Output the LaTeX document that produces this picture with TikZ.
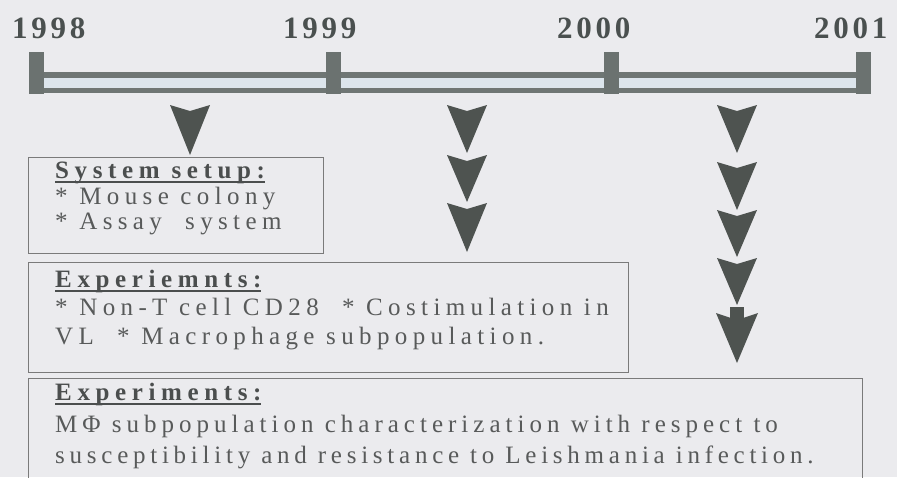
\documentclass[tikz,border=0pt]{standalone}
\usepackage{fontspec}
\setmainfont{Liberation Serif}
\newfontfamily\bodyfont[LetterSpace=21.5]{Liberation Serif}
\newfontfamily\bodyfontb[LetterSpace=20]{Liberation Serif}
\newfontfamily\bodyfontc[LetterSpace=19]{Liberation Serif}
\newfontfamily\headfont[LetterSpace=22.5]{Liberation Serif}
\newfontfamily\yearfont[LetterSpace=12]{Liberation Serif}
\definecolor{bg}{HTML}{EBEBEE}
\definecolor{railgray}{HTML}{6F7674}
\definecolor{raillight}{HTML}{DCE5EC}
\definecolor{tickgray}{HTML}{6B7270}
\definecolor{arrgray}{HTML}{4E5350}
\definecolor{boxline}{HTML}{7A7A7A}
\definecolor{txtgray}{HTML}{585A5A}
\definecolor{headgray}{HTML}{4B4E4E}
\definecolor{yeargray}{HTML}{4A504F}
\newcommand\myul[1]{\setbox0\hbox{#1}\rlap{\rule[-4.5pt]{\wd0}{1.4pt}}\box0}
\newcommand\arrowhd[3]{\fill[arrgray] (#1-20,#2) -- (#1,#2+6) -- (#1+20,#2) -- (#1,#2+#3) -- cycle;}
\tikzset{
  year/.style={anchor=base west, inner sep=0pt, text=yeargray, font=\yearfont\bfseries\fontsize{31}{34}\selectfont},
  body/.style={anchor=base west, inner sep=0pt, text=txtgray, font=\bodyfont\fontsize{25}{28}\selectfont},
  bodyb/.style={body, font=\bodyfontb\fontsize{25}{28}\selectfont},
  bodyc/.style={body, font=\bodyfontc\fontsize{25}{28}\selectfont},
  head/.style={anchor=base west, inner sep=0pt, text=headgray, font=\headfont\bfseries\fontsize{25}{28}\selectfont},
  tickbar/.style={fill=tickgray, inner sep=0pt, minimum width=15pt, minimum height=42pt},
  rail/.style={draw=railgray, line width=5.5pt, double=raillight, double distance=10pt},
  box/.style={draw=boxline, line width=1.3pt, inner sep=0pt, anchor=north west}
}
\begin{document}
\begin{tikzpicture}[x=1pt,y=-1pt]
\useasboundingbox (0,0) rectangle (897,477);
\clip (0,0) rectangle (897,477);
\fill[bg] (0,0) rectangle (897,477);
% years
\node[year] (y1998) at (12,38) {1998};
\node[year] (y1999) at (283,38) {1999};
\node[year] (y2000) at (557,38) {2000};
\node[year] (y2001) at (814,38) {2001};
% rail
\coordinate (railL) at (36,82.5);
\coordinate (railR) at (863,82.5);
\draw[rail] (railL) -- (railR);
\node[tickbar] (t1998) at (36.5,73) {};
\node[tickbar] (t1999) at (333,73) {};
\node[tickbar] (t2000) at (611,73) {};
\node[tickbar] (t2001) at (863,73) {};
% arrows
\arrowhd{190}{105}{50}
\arrowhd{467}{105}{48}
\arrowhd{467}{155}{47}
\arrowhd{467}{203}{49}
\arrowhd{737}{105}{48}
\arrowhd{737}{162}{48}
\arrowhd{737}{210}{47}
\arrowhd{737}{258}{47}
\fill[arrgray] (730,307) rectangle (744,320);
\fill[arrgray] (716,313) -- (737,320) -- (758,313) -- (737,363) -- cycle;
% boxes
\node[box, minimum width=295pt, minimum height=96pt] (box1) at (28,157) {};
\node[box, minimum width=600pt, minimum height=110pt] (box2) at (28,262) {};
\node[box, minimum width=834pt, minimum height=130pt] (box3) at (28,378) {};
% box 1 text
\node[head] (h1) at (55,178) {\myul{System setup:}};
\node[body] (l11) at (55,204) {* Mouse colony};
\node[body] (l12) at (55,229) {* Assay\ \ system};
% box 2 text
\node[head] (h2) at (55,287) {\myul{Experiemnts:}};
\node[body] (l21) at (55,315) {* Non-T cell CD28\ \ * Costimulation in};
\node[body] (l22) at (55,344) {VL\ \ * Macrophage subpopulation.};
% box 3 text
\node[head] (h3) at (55,400) {\myul{Experiments:}};
\node[bodyb] (l31) at (55,432) {MΦ subpopulation characterization with respect to};
\node[bodyc] (l32) at (55,463) {susceptibility and resistance to Leishmania infection.};
\end{tikzpicture}
\end{document}
